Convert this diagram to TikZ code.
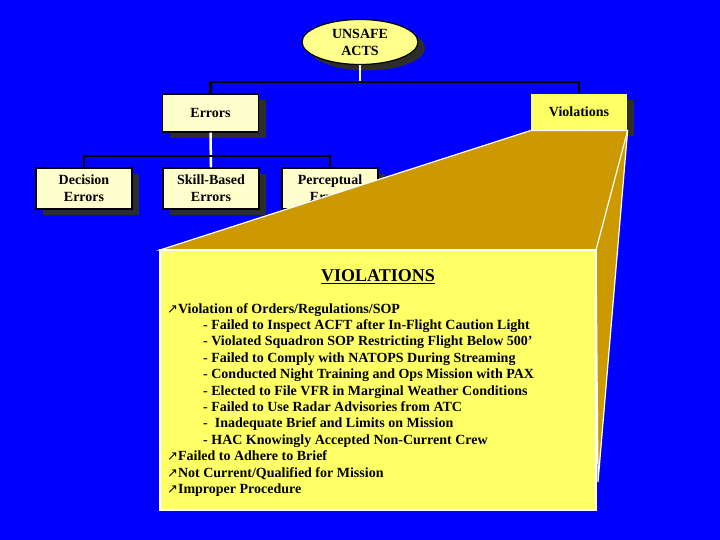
\documentclass[tikz,border=0pt]{standalone}
\usepackage{fontspec}
\setmainfont{Liberation Serif}
\newfontfamily\arrowfont{DejaVu Sans}
\usetikzlibrary{shapes.geometric,shadows}
\definecolor{slideblue}{RGB}{0,0,255}
\definecolor{callbrown}{RGB}{204,153,0}
\definecolor{cream}{RGB}{255,255,206}
\definecolor{lemon}{RGB}{255,255,102}
\definecolor{ellyellow}{RGB}{255,255,140}
\definecolor{shade}{RGB}{45,45,45}
\newcommand{\bul}{{\arrowfont\mdseries\fontsize{13bp}{13bp}\selectfont ↗}}
\newcommand{\sub}{\hspace*{36bp}- }
\tikzset{
  shadowed/.style={drop shadow={shadow xshift=7bp, shadow yshift=-6bp, fill=shade, opacity=1}},
  hfacsbox/.style={rectangle, draw=black, line width=1.2bp, fill=cream, minimum width=96bp,
    minimum height=40bp, align=center, inner sep=0pt,
    font=\fontsize{14bp}{17bp}\selectfont\bfseries, shadowed},
  stem/.style={draw=white, line width=2.5bp},
  bus/.style={draw=black, line width=2.5bp}
}
\begin{document}
\begin{tikzpicture}[x=1bp, y=-1bp]
  \fill[slideblue] (0,0) rectangle (720,540);
  \useasboundingbox (0,0) rectangle (720,540);
  % tree of unsafe acts
  \node[ellipse, draw=black, line width=1.2bp, fill=ellyellow, minimum width=116bp, minimum height=45bp,
    inner sep=0pt, align=center, font=\fontsize{14bp}{17bp}\selectfont\bfseries, shadowed] (acts) at (360,42) {UNSAFE\\ACTS};
  \node[hfacsbox, minimum height=38bp] (errors) at (210.5,113) {Errors};
  \node[hfacsbox, draw=none, fill=lemon, minimum height=36bp] (violations) at (579,112) {Violations};
  \node[hfacsbox, minimum height=41bp] (decision) at (84,188.5) {Decision\\Errors};
  \node[hfacsbox, minimum height=41bp] (skill) at (211,188.5) {Skill-Based\\Errors};
  \node[hfacsbox, minimum height=41bp] (percep) at (330,188.5) {Perceptual\\Errors};
  \coordinate (topbus) at (360,82);
  \coordinate (midbus) at (210.5,156);
  \draw[stem] (acts.south) -- (topbus);
  \draw[bus] (errors.north) |- (topbus) -| (violations.north);
  \draw[stem] (errors.south) -- (skill.north);
  \draw[bus] (decision.north) |- (midbus) -| (percep.north);
  % callout from violations
  \coordinate (calltip) at (598,482);
  \coordinate (boxnw) at (160,250);
  \coordinate (boxne) at (596,250);
  \filldraw[fill=callbrown, draw=white, line width=1.2bp] (boxnw) -- (violations.south west)
    -- (violations.south east) -- (calltip) -- (boxne) -- cycle;
  \draw[white, line width=1.2bp] (violations.south east) -- (boxne);
  \node[rectangle, draw=white, line width=1.5bp, fill=lemon, minimum width=436bp, minimum height=260bp,
    inner sep=0pt] (detail) at (378,380) {};
  \node[anchor=base, font=\fontsize{18bp}{20bp}\selectfont\bfseries] (violtitle) at (378,282) {\underline{VIOLATIONS}};
  \node[anchor=north west, inner sep=0pt, align=left, font=\fontsize{14bp}{16.4bp}\selectfont\bfseries] (violist) at (167,303) {%
    \bul Violation of Orders/Regulations/SOP\\
    \sub Failed to Inspect ACFT after In-Flight Caution Light\\
    \sub Violated Squadron SOP Restricting Flight Below 500’\\
    \sub Failed to Comply with NATOPS During Streaming\\
    \sub Conducted Night Training and Ops Mission with PAX\\
    \sub Elected to File VFR in Marginal Weather Conditions\\
    \sub Failed to Use Radar Advisories from ATC\\
    \sub\ Inadequate Brief and Limits on Mission\\
    \sub HAC Knowingly Accepted Non-Current Crew\\
    \bul Failed to Adhere to Brief\\
    \bul Not Current/Qualified for Mission\\
    \bul Improper Procedure};
\end{tikzpicture}
\end{document}
